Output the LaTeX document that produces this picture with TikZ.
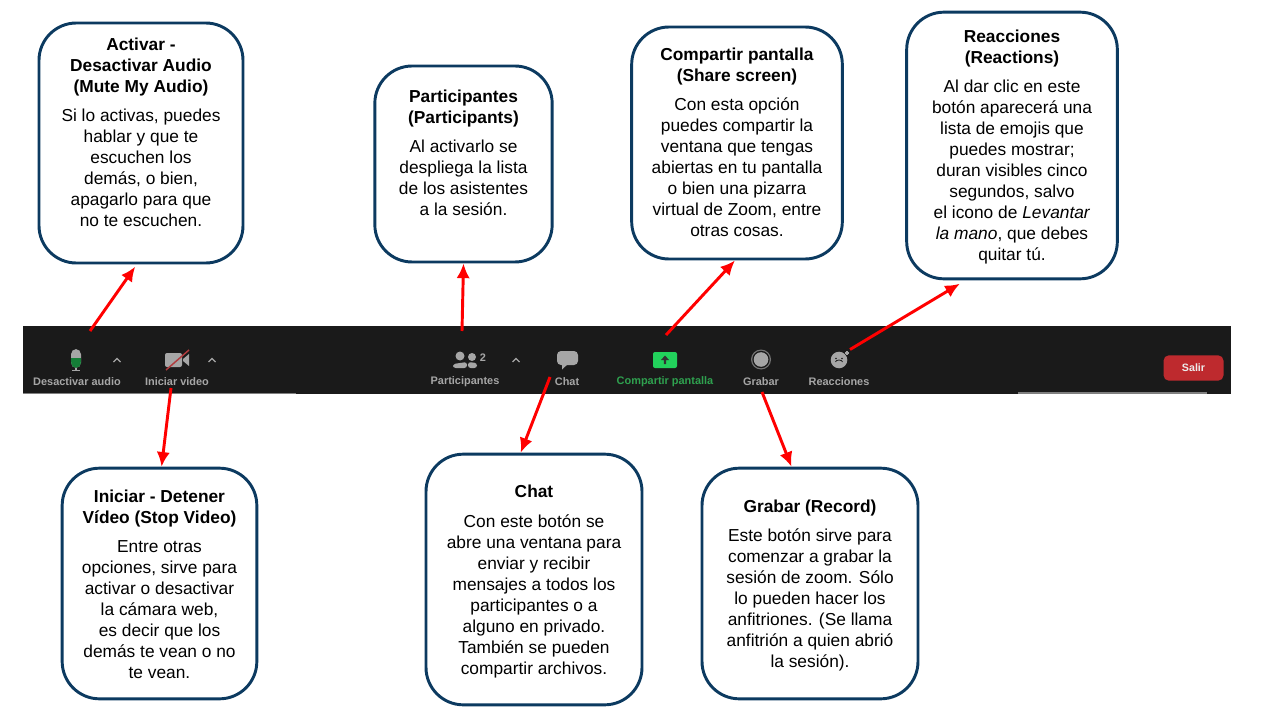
\documentclass[tikz,border=0pt]{standalone}
\usepackage{fontspec}
\setmainfont{Liberation Sans}
\usetikzlibrary{arrows.meta}
\definecolor{boxblue}{HTML}{0C3A60}
\definecolor{barblack}{HTML}{1A1A1A}
\definecolor{icongray}{HTML}{A6A6A6}
\definecolor{sharegreen}{HTML}{22D25C}
\definecolor{labelgreen}{HTML}{2FA14F}
\definecolor{leavered}{HTML}{BE2A2E}
\tikzset{
  infobox/.style={draw=boxblue, line width=2.2pt, fill=white, rounded corners=28pt, inner sep=0pt},
  infotext/.style={anchor=north, inner sep=0pt, align=center, font=\fontsize{13}{15.75}\selectfont},
  barlabel/.style={inner sep=0pt, text=icongray, font=\fontsize{8.2}{9}\selectfont\bfseries},
  pointer/.style={draw=red, line width=2.2pt, -{Latex[length=11pt,width=10pt]}},
  chevron/.style={draw=icongray, line width=0.9pt}
}
\begin{document}
\begin{tikzpicture}[x=0.75pt,y=-0.75pt]
  \useasboundingbox (0,0) rectangle (1280,720);
  % toolbar
  \fill[barblack] (23,326) rectangle (1231,394);
  \draw[gray, line width=1pt] (23,393.5) -- (296,393.5);
  \draw[gray, line width=1pt] (1018,393) -- (1207,393);
  % boxes
  \node[infobox, minimum width=153pt, minimum height=180pt] (audio) at (141,143) {};
  \node[infobox, minimum width=133pt, minimum height=147pt] (parts) at (463.5,164) {};
  \node[infobox, minimum width=158pt, minimum height=174pt] (share) at (737,143) {};
  \node[infobox, minimum width=158pt, minimum height=200pt] (react) at (1012,145.5) {};
  \node[infobox, minimum width=146pt, minimum height=173pt] (video) at (159.5,583.5) {};
  \node[infobox, minimum width=162pt, minimum height=188pt] (chat) at (534,579.5) {};
  \node[infobox, minimum width=162pt, minimum height=173pt] (record) at (810,583.5) {};
  % box texts
  \node[infotext] (audiotext) at (141,37.5) {\textbf{Activar -}\\\textbf{Desactivar Audio}\\\textbf{(Mute My Audio)}\\[6pt]
    Si lo activas, puedes\\hablar y que te\\escuchen los\\demás, o bien,\\apagarlo para que\\no te escuchen.};
  \node[infotext] (partstext) at (463.5,90) {\textbf{Participantes}\\\textbf{(Participants)}\\[6pt]
    Al activarlo se\\despliega la lista\\de los asistentes\\a la sesión.};
  \node[infotext] (sharetext) at (737,48) {\textbf{Compartir pantalla}\\\textbf{(Share screen)}\\[6pt]
    Con esta opción\\puedes compartir la\\ventana que tengas\\abiertas en tu pantalla\\o bien una pizarra\\virtual de Zoom, entre\\otras cosas.};
  \node[infotext] (reacttext) at (1012,30) {\textbf{Reacciones}\\\textbf{(Reactions)}\\[6pt]
    Al dar clic en este\\botón aparecerá una\\lista de emojis que\\puedes mostrar;\\duran visibles cinco\\segundos, salvo\\el icono de \textit{Levantar}\\\textit{la mano}, que debes\\quitar tú.};
  \node[infotext] (videotext) at (159.5,489.5) {\textbf{Iniciar - Detener}\\\textbf{Vídeo (Stop Video)}\\[6pt]
    Entre otras\\opciones, sirve para\\activar o desactivar\\la cámara web,\\es decir que los\\demás te vean o no\\te vean.};
  \node[infotext] (chattext) at (534,485) {\textbf{Chat}\\[6.5pt]
    Con este botón se\\abre una ventana para\\enviar y recibir\\mensajes a todos los\\participantes o a\\alguno en privado.\\También se pueden\\compartir archivos.};
  \node[infotext] (recordtext) at (810,500) {\textbf{Grabar (Record)}\\[6pt]
    Este botón sirve para\\comenzar a grabar la\\sesión de zoom. Sólo\\lo pueden hacer los\\anfitriones. (Se llama\\anfitrión a quien abrió\\la sesión).};
  % toolbar labels
  \node[barlabel] (lblaudio) at (77,382) {Desactivar audio};
  \node[barlabel] (lblvideo) at (177,382) {Iniciar video};
  \node[barlabel] (lblparts) at (465,382) {Participantes};
  \node[barlabel] (lblchat) at (567,382) {Chat};
  \node[barlabel, text=labelgreen] (lblshare) at (665,382) {Compartir pantalla};
  \node[barlabel] (lblrecord) at (761,382) {Grabar};
  \node[barlabel] (lblreact) at (839,382) {Reacciones};
  \node[barlabel] (lblcount) at (483,358) {2};
  \node[fill=leavered, rounded corners=4pt, minimum width=45pt, minimum height=19pt, inner sep=0pt, text=white!85!gray, font=\fontsize{8}{9}\selectfont\bfseries] (leave) at (1193.5,368) {Salir};
  % microphone
  \fill[icongray, rounded corners=4pt] (71,349) rectangle (81,368);
  \fill[sharegreen!60!black, rounded corners=4pt] (71,358) rectangle (81,368);
  \fill[sharegreen!60!black] (71,358) rectangle (81,362);
  \draw[icongray, line width=0.9pt] (76,368) -- (76,370.5);
  \draw[icongray, line width=0.9pt] (72,370.5) -- (80,370.5);
  % camera
  \fill[icongray, rounded corners=1.5pt] (165,353) rectangle (182,367);
  \fill[icongray] (183,359) -- (189,354) -- (189,366) -- (183,361) -- cycle;
  \draw[leavered!80!gray, line width=1.1pt] (166,370) -- (189,350);
  % chevrons
  \foreach \cx in {117,212,516}
    \draw[chevron] (\cx-3.5,362) -- (\cx,358.5) -- (\cx+3.5,362);
  % participants
  \fill[icongray] (460,356) circle (4.5);
  \fill[icongray] (472,357) circle (4);
  \fill[icongray, rounded corners=2pt] (453,368) -- (453,364) -- (467,362) -- (467,368) -- cycle;
  \fill[icongray, rounded corners=2pt] (468,368) -- (468,362) -- (477,363) -- (477,368) -- cycle;
  % chat bubble
  \fill[icongray, rounded corners=3pt] (557,351) rectangle (578,365);
  \fill[icongray] (562,363) -- (562,369.5) -- (569,363) -- cycle;
  % share screen
  \fill[sharegreen, rounded corners=1.5pt] (653,352) rectangle (677,368);
  \fill[black!80] (665,355.5) -- (669,360) -- (666.2,360) -- (666.2,364) -- (663.8,364) -- (663.8,360) -- (661,360) -- cycle;
  % record
  \fill[icongray!70!black] (761,359.5) circle (10);
  \fill[barblack] (761,359.5) circle (8.7);
  \fill[icongray] (761,359.5) circle (7.3);
  % reactions
  \fill[icongray] (839,360) circle (8.3);
  \fill[barblack] (836,358.5) circle (0.9) (842,358.5) circle (0.9);
  \draw[barblack, line width=0.6pt] (835.5,362) arc (180:360:3.5 and 2);
  \draw[icongray, line width=0.8pt] (845,353) -- (849,353) (847,351) -- (847,355);
  % connectors
  \coordinate (audiostart) at (90,331);
  \coordinate (partsstart) at (462,331);
  \coordinate (sharestart) at (666,335);
  \coordinate (reactstart) at (850,349.5);
  \coordinate (videostart) at (171,388);
  \coordinate (chatstart) at (550,377);
  \coordinate (recordstart) at (762,392);
  \draw[pointer, shorten >=2pt] (audiostart) -- (audio.-92.9);
  \draw[pointer] (partsstart) -- (parts.south);
  \draw[pointer] (sharestart) -- (share.-91);
  \draw[pointer, shorten >=5pt] (reactstart) -- (react.-109.4);
  \draw[pointer] (videostart) -- (video.89.3);
  \draw[pointer] (chatstart) -- (chat.96.8);
  \draw[pointer] (recordstart) -- (record.99.8);
\end{tikzpicture}
\end{document}
